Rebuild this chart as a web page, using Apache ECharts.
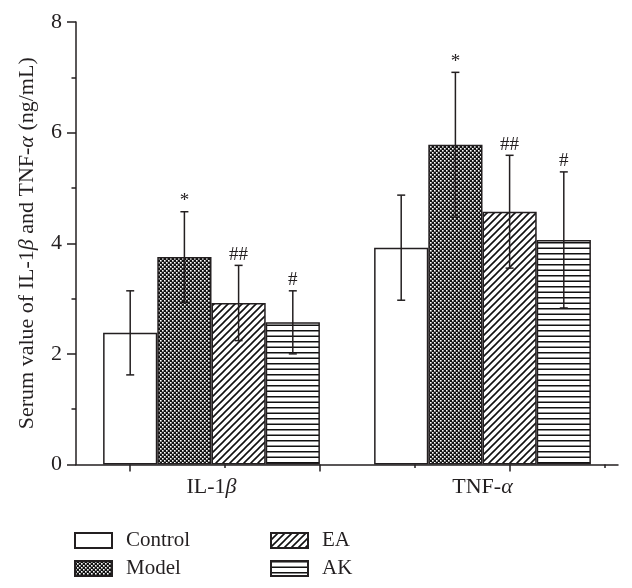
<!DOCTYPE html>
<html>
<head>
<meta charset="utf-8">
<script src="https://cdn.jsdelivr.net/npm/echarts@6/dist/echarts.min.js"></script>
<style>
html,body{margin:0;padding:0;background:#fff;}
#chart{width:632px;height:588px;}
</style>
</head>
<body>
<div id="chart"></div>
<script>
// ---- data ----
var categories = ['IL-1β', 'TNF-α'];
var groups = ['Control', 'Model', 'EA', 'AK'];
var controlMean = [2.38, 3.92];
var modelMean   = [3.75, 5.78];
var eaMean      = [2.92, 4.57];
var akMean      = [2.57, 4.06];
var controlErr  = [0.76, 0.95];
var modelErr    = [0.82, 1.31];
var eaErr       = [0.68, 1.02];
var akErr       = [0.57, 1.23];
var annotations = [['', '*', '##', '#'], ['', '*', '##', '#']];
var yTicks = [0, 2, 4, 6, 8];
var xMajorTicks = [0.2, 0.9, 1.6];
var xMinorTicks = [0.55, 1.25, 1.95];

var means = [controlMean, modelMean, eaMean, akMean];
var errs = [controlErr, modelErr, eaErr, akErr];

var INK = '#231f20';
var FONT = '"Liberation Serif", "DejaVu Serif", serif';

function makePattern(kind) {
  var c = document.createElement('canvas');
  var ctx;
  if (kind === 'dots') {
    c.width = 4; c.height = 4; ctx = c.getContext('2d');
    ctx.fillStyle = '#111'; ctx.fillRect(0, 0, 4, 4);
    ctx.fillStyle = '#fff';
    ctx.fillRect(0, 0, 1.6, 1.6);
    ctx.fillRect(2, 2, 1.6, 1.6);
  } else if (kind === 'diag') {
    c.width = 7; c.height = 7; ctx = c.getContext('2d');
    ctx.fillStyle = '#fff'; ctx.fillRect(0, 0, 7, 7);
    ctx.strokeStyle = '#111'; ctx.lineWidth = 1.6;
    ctx.beginPath();
    ctx.moveTo(-1, 8); ctx.lineTo(8, -1);
    ctx.moveTo(-2, 2); ctx.lineTo(2, -2);
    ctx.moveTo(5, 9); ctx.lineTo(9, 5);
    ctx.stroke();
  } else {
    c.width = 4; c.height = 11; ctx = c.getContext('2d');
    ctx.fillStyle = '#fff'; ctx.fillRect(0, 0, 4, 11);
    ctx.fillStyle = '#111';
    ctx.fillRect(0, 0, 4, 1.5);
    ctx.fillRect(0, 5.5, 4, 1.5);
  }
  return { image: c, repeat: 'repeat' };
}

var fills = ['#ffffff', makePattern('dots'), makePattern('diag'), makePattern('hlines')];

var greek = function (s) {
  return s.replace(/([βα])/g, '{i|$1}');
};

var barSeries = groups.map(function (g, k) {
  return {
    name: g,
    type: 'bar',
    xAxisIndex: 0,
    barGap: '0%',
    barCategoryGap: '20%',
    data: means[k],
    itemStyle: { color: fills[k], borderColor: INK, borderWidth: 1.5 },
    emphasis: { disabled: true },
    z: 2
  };
});

var errData = [];
categories.forEach(function (cat, c) {
  groups.forEach(function (g, s) {
    errData.push([c, s, means[s][c], errs[s][c], annotations[c][s]]);
  });
});

var errSeries = {
  type: 'custom',
  xAxisIndex: 0,
  data: errData,
  encode: { x: 0, y: 2 },
  z: 5,
  silent: true,
  renderItem: function (params, api) {
    var c = api.value(0), s = api.value(1), m = api.value(2), e = api.value(3);
    var item = errData[params.dataIndex];
    var bandW = api.size([1, 0])[0];
    var groupW = bandW * 0.8;
    var barW = groupW / 4;
    var cx = api.coord([c, 0])[0] - groupW / 2 + barW * (s + 0.5);
    var yT = api.coord([c, m + e])[1];
    var yB = api.coord([c, m - e])[1];
    var cap = 4;
    var st = { stroke: INK, lineWidth: 1.5 };
    var children = [
      { type: 'line', shape: { x1: cx, y1: yT, x2: cx, y2: yB }, style: st },
      { type: 'line', shape: { x1: cx - cap, y1: yT, x2: cx + cap, y2: yT }, style: st },
      { type: 'line', shape: { x1: cx - cap, y1: yB, x2: cx + cap, y2: yB }, style: st }
    ];
    if (item[4]) {
      children.push({
        type: 'text',
        style: {
          x: cx, y: yT - 1, text: item[4], fill: INK,
          font: '19px ' + FONT, align: 'center', verticalAlign: 'bottom'
        }
      });
    }
    return { type: 'group', children: children };
  }
};

var legendCommon = {
  orient: 'vertical', top: 530, icon: 'rect',
  itemWidth: 37, itemHeight: 15, itemGap: 7, padding: 0,
  selectedMode: false,
  textStyle: { fontFamily: FONT, fontSize: 21, color: INK, padding: [0, 0, 0, 9] }
};

var chart = echarts.init(document.getElementById('chart'), null, { renderer: 'canvas' });
chart.setOption({
  animation: false,
  backgroundColor: '#fff',
  textStyle: { fontFamily: FONT, color: INK },
  grid: { left: 76, right: 14, top: 22, bottom: 123.5, containLabel: false },
  legend: [
    Object.assign({ data: ['Control', 'Model'], left: 74 }, legendCommon),
    Object.assign({ data: ['EA', 'AK'], left: 270 }, legendCommon)
  ],
  xAxis: [
    {
      type: 'category', data: categories, position: 'bottom',
      axisLine: { show: true, lineStyle: { color: INK, width: 1.5 } },
      axisTick: { show: false },
      axisLabel: {
        margin: 12, fontSize: 22, color: INK, fontFamily: FONT,
        formatter: greek,
        rich: { i: { fontStyle: 'italic', fontSize: 22, fontFamily: FONT, color: INK } }
      },
      splitLine: { show: false }
    },
    {
      type: 'value', min: 0, max: 2, position: 'bottom', offset: 0,
      axisLine: { show: false }, axisLabel: { show: false }, splitLine: { show: false },
      axisTick: { show: true, customValues: xMajorTicks, length: 7, lineStyle: { color: INK, width: 1.5 } }
    },
    {
      type: 'value', min: 0, max: 2, position: 'bottom', offset: 0,
      axisLine: { show: false }, axisLabel: { show: false }, splitLine: { show: false },
      axisTick: { show: true, customValues: xMinorTicks, length: 3.5, lineStyle: { color: INK, width: 1.5 } }
    }
  ],
  yAxis: {
    type: 'value', min: yTicks[0], max: yTicks[yTicks.length - 1], interval: 2,
    name: 'Serum value of IL-1{i|β} and TNF-{i|α} (ng/mL)',
    nameLocation: 'middle', nameGap: 38,
    nameTextStyle: {
      fontSize: 22, fontFamily: FONT, color: INK,
      rich: { i: { fontStyle: 'italic', fontSize: 22, fontFamily: FONT, color: INK } }
    },
    axisLine: { show: true, lineStyle: { color: INK, width: 1.5 } },
    axisTick: { show: true, length: 9, lineStyle: { color: INK, width: 1.5 } },
    minorTick: { show: true, splitNumber: 2, length: 4.5, lineStyle: { color: INK, width: 1.5 } },
    axisLabel: { margin: 14, fontSize: 22, color: INK, fontFamily: FONT },
    splitLine: { show: false }
  },
  series: barSeries.concat([errSeries])
});
</script>
</body>
</html>
